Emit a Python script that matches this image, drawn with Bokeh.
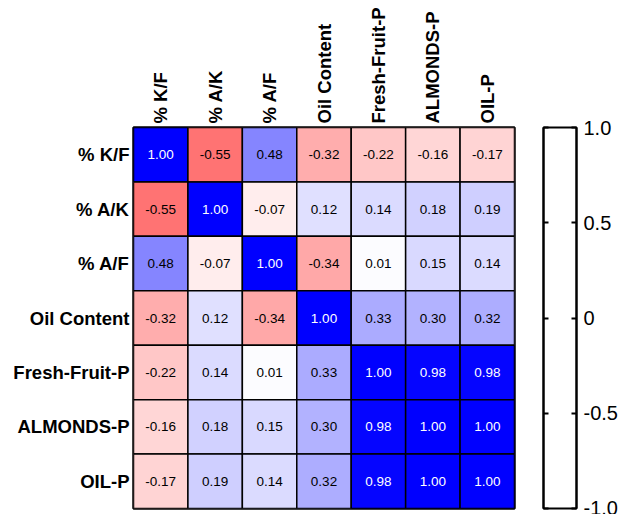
from bokeh.plotting import figure
from bokeh.models import FactorRange, Range1d, FixedTicker, LinearAxis, ColumnDataSource
from bokeh.layouts import row
from bokeh.core.properties import value
from bokeh.embed import file_html
from bokeh.resources import INLINE

labels = ["% K/F", "% A/K", "% A/F", "Oil Content", "Fresh-Fruit-P", "ALMONDS-P", "OIL-P"]
r_kf = [1.00, -0.55, 0.48, -0.32, -0.22, -0.16, -0.17]
r_ak = [-0.55, 1.00, -0.07, 0.12, 0.14, 0.18, 0.19]
r_af = [0.48, -0.07, 1.00, -0.34, 0.01, 0.15, 0.14]
r_oil = [-0.32, 0.12, -0.34, 1.00, 0.33, 0.30, 0.32]
r_ff = [-0.22, 0.14, 0.01, 0.33, 1.00, 0.98, 0.98]
r_alm = [-0.16, 0.18, 0.15, 0.30, 0.98, 1.00, 1.00]
r_oilp = [-0.17, 0.19, 0.14, 0.32, 0.98, 1.00, 1.00]
matrix = [r_kf, r_ak, r_af, r_oil, r_ff, r_alm, r_oilp]
cb_ticks = [-1.0, -0.5, 0.0, 0.5, 1.0]
cb_tick_labels = ["-1.0", "-0.5", "0", "0.5", "1.0"]

FONT = "Liberation Sans"


def color_for(v):
    if v >= 0:
        c = int(round(255 * (1 - v)))
        return "#%02x%02x%02x" % (c, c, 255)
    c = int(round(255 * (1 + v)))
    return "#%02x%02x%02x" % (255, c, c)


xs, ys, vals, cols, txt, tcol = [], [], [], [], [], []
for i, rname in enumerate(labels):
    for j, cname in enumerate(labels):
        v = matrix[i][j]
        xs.append(cname)
        ys.append(rname)
        vals.append(v)
        cols.append(color_for(v))
        txt.append("%.2f" % v)
        tcol.append("white" if abs(v) >= 0.9 else "black")

src = ColumnDataSource(dict(x=xs, y=ys, v=vals, c=cols, t=txt, tc=tcol))

p = figure(width=530, height=514, output_backend="svg", toolbar_location=None,
           x_range=FactorRange(*labels), y_range=FactorRange(*labels[::-1]),
           x_axis_location="above", min_border_left=133, min_border_top=125,
           min_border_right=16, min_border_bottom=6)
p.rect(x="x", y="y", width=1, height=1, source=src, fill_color="c",
       line_color="black", line_width=1.5)
p.text(x="x", y="y", text="t", source=src, text_color="tc",
       text_align="center", text_baseline="middle",
       text_font=value(FONT), text_font_size="13.5px")
p.grid.visible = False
p.outline_line_color = "black"
p.outline_line_width = 2.5
for ax in (p.xaxis[0], p.yaxis[0]):
    ax.axis_line_color = None
    ax.major_tick_line_color = None
    ax.major_tick_out = 0
    ax.major_tick_in = 0
    ax.minor_tick_line_color = None
    ax.major_label_text_font = FONT
    ax.major_label_text_font_style = "bold"
    ax.major_label_text_font_size = "18.5px"
    ax.major_label_text_color = "black"
    ax.major_label_standoff = 4
p.xaxis.major_label_orientation = "vertical"

cb = figure(width=90, height=514, output_backend="svg", toolbar_location=None,
            x_range=Range1d(0, 1), y_range=Range1d(-1, 1),
            min_border_left=13, min_border_right=43,
            min_border_top=127, min_border_bottom=6,
            y_axis_location="right")
cb.grid.visible = False
cb.xaxis.visible = False
cb.outline_line_color = "black"
cb.outline_line_width = 2
ya = cb.yaxis[0]
ya.ticker = FixedTicker(ticks=cb_ticks)
ya.major_label_overrides = {t: l for t, l in zip(cb_ticks, cb_tick_labels)}
ya.major_tick_in = 5
ya.major_tick_out = 0
ya.minor_tick_line_color = None
ya.axis_line_color = "black"
ya.axis_line_width = 2
ya.major_tick_line_width = 2
ya.major_label_text_font = FONT
ya.major_label_text_font_size = "20px"
ya.major_label_text_color = "black"
ya.major_label_standoff = 7
la = LinearAxis(ticker=FixedTicker(ticks=cb_ticks), major_tick_in=5, major_tick_out=0,
                minor_tick_line_color=None, axis_line_width=2, major_tick_line_width=2,
                major_label_overrides={t: "" for t in cb_ticks},
                major_label_standoff=0)
cb.add_layout(la, "left")

layout = row(p, cb)
open("out.html", "w").write(file_html(layout, INLINE))
